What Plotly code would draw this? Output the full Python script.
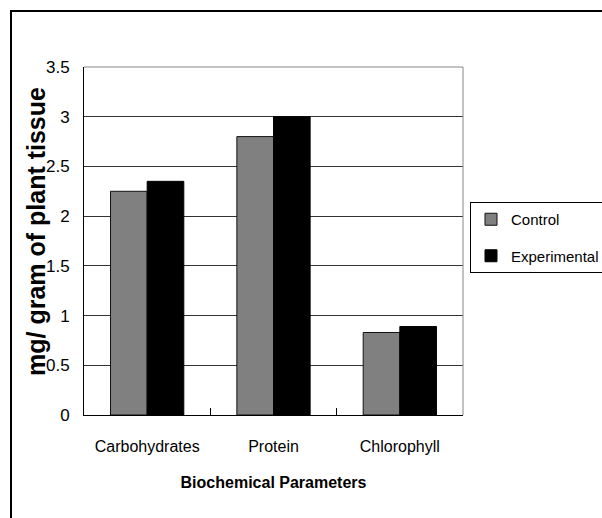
import plotly.graph_objects as go

categories = ["Carbohydrates", "Protein", "Chlorophyll"]
control = [2.25, 2.8, 0.83]
experimental = [2.35, 3.0, 0.89]
y_ticks = [0, 0.5, 1, 1.5, 2, 2.5, 3, 3.5]
y_tick_text = ["0", "0.5", "1", "1.5", "2", "2.5", "3", "3.5"]

FONT = "Liberation Sans, Arial, sans-serif"

fig = go.Figure()
fig.add_trace(go.Bar(x=categories, y=control, name="Control", legendgroup="c",
                     marker=dict(color="#808080", line=dict(color="#111", width=1))))
fig.add_trace(go.Bar(x=categories, y=experimental, name="Experimental", legendgroup="e",
                     marker=dict(color="#000000", line=dict(color="#000", width=1))))

L, R, T, B = 84, 139, 67, 103
W, H = 602, 518
pw, ph = W - L - R, H - T - B

def px2x(px):
    return (px - L) / pw

def py2y(py):
    return (H - B - py) / ph

fig.update_layout(
    width=W, height=H,
    margin=dict(l=L, r=R, t=T, b=B, pad=0, autoexpand=False),
    paper_bgcolor="white", plot_bgcolor="white",
    barmode="group", bargap=0.42, bargroupgap=0,
    font=dict(family=FONT, size=16, color="#000"),
    legend=dict(x=px2x(470), y=py2y(202), xanchor="left", yanchor="top",
                bordercolor="#000", borderwidth=1, bgcolor="white",
                font=dict(family=FONT, size=15), tracegroupgap=14,
                traceorder="grouped"),
    xaxis=dict(showline=True, linecolor="#000", linewidth=1, automargin=False,
               ticks="inside", ticklen=7, tickcolor="#000", tickson="boundaries",
               ticklabelstandoff=17, tickangle=0,
               title=dict(text="<b>Biochemical Parameters</b>", standoff=22,
                          font=dict(family=FONT, size=16))),
    yaxis=dict(range=[0, 3.5], tickvals=y_ticks, ticktext=y_tick_text, automargin=False,
               showline=True, linecolor="#000", linewidth=1,
               showgrid=True, gridcolor="#333", gridwidth=1,
               ticks="", ticklabelstandoff=10, zeroline=False, tickfont=dict(size=17)),
    annotations=[
        dict(text="<b>mg/ gram of plant tissue</b>", xref="paper", yref="paper",
             x=px2x(36), y=py2y(232), xanchor="center", yanchor="middle",
             textangle=-90, showarrow=False, font=dict(family=FONT, size=25)),
    ],
    shapes=[
        dict(type="line", xref="paper", yref="paper", x0=0, x1=1, y0=1, y1=1,
             line=dict(color="#888", width=1)),
        dict(type="line", xref="paper", yref="paper", x0=1, x1=1, y0=0, y1=1,
             line=dict(color="#888", width=1)),
        dict(type="line", xref="paper", yref="paper", x0=px2x(11), x1=px2x(11),
             y0=py2y(11), y1=py2y(520), line=dict(color="#000", width=2)),
        dict(type="line", xref="paper", yref="paper", x0=px2x(10), x1=px2x(604),
             y0=py2y(11), y1=py2y(11), line=dict(color="#000", width=2)),
    ],
)

fig.write_html("out.html", config={"displayModeBar": False},
               post_script="document.body.style.margin='0';")
